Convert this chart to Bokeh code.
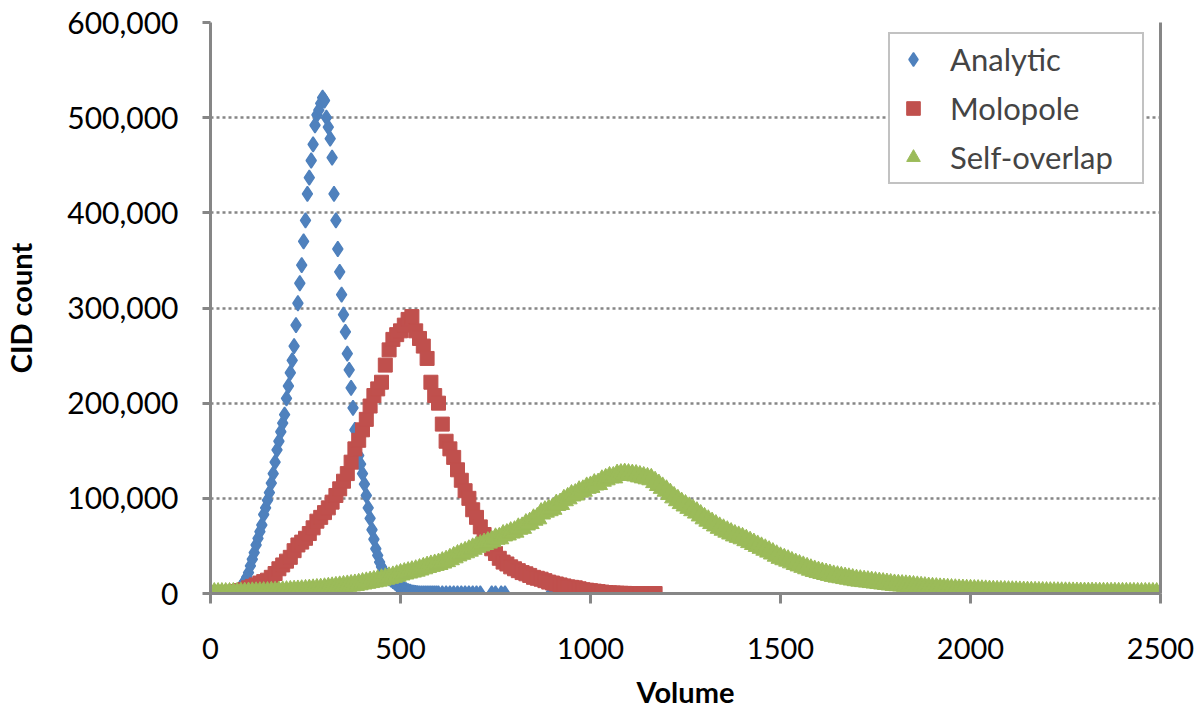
import numpy as np
from bokeh.plotting import figure
from bokeh.models import (Legend, LegendItem, NumeralTickFormatter, FixedTicker,
                          LinearAxis, Range1d, ColumnDataSource)
from bokeh.embed import file_html
from bokeh.resources import INLINE

# ---------------- data ----------------
SERIES_NAMES = ["Analytic", "Molopole", "Self-overlap"]

ANALYTIC_X = (list(range(55, 605, 5))
              + [610, 620, 630, 640, 650, 660, 670, 680, 690, 700, 710, 740, 750, 765, 775, 895])
ANALYTIC_Y_K = [
    0, 0.3, 1, 2, 4, 6.5, 9.5, 13, 17, 22,
    29, 36, 43, 51, 58, 65, 72, 83, 90, 98,
    106, 116, 126, 138, 151, 160, 170, 179, 188, 205,
    218, 232, 245, 260, 282, 305, 326, 345, 370, 392,
    420, 437, 455, 472, 492, 503, 508, 515, 521, 518,
    500, 490, 478, 458, 420, 392, 362, 338, 314, 293,
    275, 252, 235, 216, 195, 172, 157, 145, 136, 126,
    115, 103, 90, 79, 67, 57, 47, 40, 33, 28,
    24, 20.7, 18, 16, 14.5, 13, 11.5, 10, 8, 6.6,
    5.5, 4.5, 3.5, 2.5, 1.8, 1.2, 0.8, 0.5, 0.3, 0.2,
    0.1, 0, 0, 0, 0, 0, 0, 0, 0, 0,
    0, 0, 0, 0, 0, 0, 0, 0, 0, 0,
    0, 0, 0, 0, 0, 0,
]

MOLOPOLE_X = list(range(0, 1180, 10))
MOLOPOLE_Y_K = [
    0.5, 0.5, 0.5, 0.5, 1, 1, 1.5, 2, 3, 4,
    6, 7.5, 9, 11, 12.5, 14, 17, 21, 26, 30,
    34, 38, 45, 51, 54, 58, 63, 69, 76, 80,
    85, 90, 96, 103, 110, 118, 126, 138, 152, 161,
    172, 183, 197, 208, 215, 222, 240, 256, 267, 272,
    276, 282, 288, 291, 276, 268, 260, 247, 222, 208,
    200, 178, 160, 152, 143, 130, 119, 108, 100, 88,
    80, 70, 62, 53, 47, 42, 37, 33, 31, 28,
    26, 24, 22, 20.7, 19, 17, 16, 15, 13.5, 12,
    11, 10, 9, 8, 7, 6.5, 6, 5, 4, 3.5,
    3, 2.5, 2, 1.5, 1, 0.7, 0.5, 0.3, 0.2, 0.1,
    0, 0, 0, 0, 0, 0, 0, 0,
]

SELF_X = list(range(0, 2500, 10))
SELF_Y_K = [
    0, 0, 0, 0, 0, 0, 0.1, 0.2, 0.3, 0.4,                       # 0-90
    0.6, 0.7, 0.8, 0.9, 1, 1.1, 1.3, 1.4, 1.6, 1.8,             # 100-190
    2, 2.2, 2.5, 2.7, 3, 3.3, 3.6, 3.9, 4.3, 4.6,               # 200-290
    5, 5.5, 6, 6.5, 7, 7.5, 8, 8.5, 9, 9.7,                     # 300-390
    10.5, 11.2, 12, 12.7, 13.5, 14.5, 15.5, 16.5, 17.5, 18.7,   # 400-490
    20, 21, 22, 23, 24, 25.2, 26.5, 27.8, 29, 30,               # 500-590
    31, 32.5, 34, 36, 38, 40, 41.7, 43.3, 45, 47,               # 600-690
    49, 50.5, 52, 53.5, 55, 57.5, 58, 61, 62, 64,               # 700-790
    65, 68, 69, 72.5, 74, 77.5, 79, 84, 86, 87.5,               # 800-890
    89, 93, 94, 98, 100, 103, 104, 107, 108, 111,               # 900-990
    112, 114.5, 115, 118.5, 120, 122, 122, 124.5, 125, 125.5,   # 1000-1090
    125, 124.5, 124, 123, 122, 121, 120, 117, 114, 111,         # 1100-1190
    108, 104.5, 101, 98, 95, 92.5, 90, 87.5, 85, 82,            # 1200-1290
    79, 76.5, 74, 71.5, 69, 67, 65, 63, 61, 59.5,               # 1300-1390
    58, 56, 54, 52, 50, 48, 46, 44, 42, 39.7,                   # 1400-1490
    37.5, 36, 34.5, 32.7, 31, 29.5, 28, 26.5, 25, 23.7,         # 1500-1590
    22.5, 21.5, 20.5, 19.5, 18.5, 17.7, 17, 16.2, 15.5, 14.7,   # 1600-1690
    14, 13.5, 13, 12.5, 12, 11.5, 11, 10.5, 10, 9.5,            # 1700-1790
    9, 8.7, 8.4, 8.1, 7.8, 7.4, 7, 6.6, 6.2, 5.8,               # 1800-1890
    5.5, 5.2, 4.9, 4.7, 4.5, 4.2, 4, 3.8, 3.7, 3.5,             # 1900-1990
    3.4, 3.2, 3.1, 2.9, 2.8, 2.6, 2.5, 2.3, 2.2, 2.1,           # 2000-2090
    2, 1.9, 1.8, 1.7, 1.6, 1.5, 1.4, 1.3, 1.2, 1.1,             # 2100-2190
    1, 0.95, 0.9, 0.85, 0.8, 0.75, 0.7, 0.65, 0.6, 0.55,        # 2200-2290
    0.5, 0.48, 0.45, 0.42, 0.4, 0.37, 0.35, 0.32, 0.3, 0.28,    # 2300-2390
    0.25, 0.22, 0.2, 0.18, 0.15, 0.12, 0.1, 0.1, 0.1, 0,        # 2400-2490
]

X_TICKS = [0, 500, 1000, 1500, 2000, 2500]
Y_TICKS = [0, 100000, 200000, 300000, 400000, 500000, 600000]
X_LABEL = "Volume"
Y_LABEL = "CID count"

# ---------------- styling ----------------
BLUE = "#4F81BD"
RED = "#C0504D"
GREEN = "#9BBB59"
AXIS_GRAY = "#868686"
FONT = "Lato"

p = figure(width=1200, height=719,
           x_range=Range1d(0, 2500), y_range=Range1d(0, 600000),
           output_backend="svg", toolbar_location=None,
           min_border_left=210, min_border_right=40,
           min_border_top=22, min_border_bottom=126)
p.outline_line_color = None
p.background_fill_color = "white"
p.border_fill_color = "white"

src_a = ColumnDataSource(dict(x=ANALYTIC_X, y=[v * 1000 for v in ANALYTIC_Y_K]))
src_m = ColumnDataSource(dict(x=MOLOPOLE_X, y=[v * 1000 for v in MOLOPOLE_Y_K]))
src_s = ColumnDataSource(dict(x=SELF_X, y=[v * 1000 for v in SELF_Y_K]))

r_a = p.scatter("x", "y", source=src_a, marker="diamond", size=15,
                fill_color=BLUE, line_color=BLUE, line_width=1.5)
r_m = p.scatter("x", "y", source=src_m, marker="square", size=14,
                fill_color=RED, line_color=RED)
r_s = p.scatter("x", "y", source=src_s, marker="triangle", size=19,
                fill_color=GREEN, line_color=GREEN)

# axes
p.xaxis.ticker = FixedTicker(ticks=X_TICKS)
p.yaxis.ticker = FixedTicker(ticks=Y_TICKS)
p.yaxis.formatter = NumeralTickFormatter(format="0,0")
for ax in (p.xaxis[0], p.yaxis[0]):
    ax.axis_line_color = AXIS_GRAY
    ax.axis_line_width = 3
    ax.major_tick_line_color = AXIS_GRAY
    ax.major_tick_line_width = 3
    ax.major_tick_in = 0
    ax.minor_tick_line_color = None
    ax.major_label_text_color = "black"
    ax.major_label_text_font = FONT
    ax.axis_label_text_color = "black"
    ax.axis_label_text_font_style = "bold"
    ax.axis_label_text_font = FONT
    ax.axis_label_text_font_size = "29px"

p.xaxis.major_tick_out = 10
p.xaxis.major_label_text_font_size = "29px"
p.xaxis.major_label_standoff = 34
p.xaxis.axis_label = X_LABEL
p.xaxis.axis_label_standoff = 12

p.yaxis.major_tick_out = 8
p.yaxis.major_label_text_font_size = "30px"
p.yaxis.major_label_standoff = 24
p.yaxis.axis_label = Y_LABEL
p.yaxis.axis_label_standoff = 26

right_ax = LinearAxis(ticker=FixedTicker(ticks=[]), axis_line_color=AXIS_GRAY,
                      axis_line_width=3, major_tick_line_color=None,
                      minor_tick_line_color=None)
p.add_layout(right_ax, "right")

# grid
p.xgrid.grid_line_color = None
p.ygrid.ticker = FixedTicker(ticks=Y_TICKS)
p.ygrid.bounds = (50000, 550000)
p.ygrid.grid_line_color = AXIS_GRAY
p.ygrid.grid_line_width = 2.5
p.ygrid.grid_line_dash = "3 3"

# legend
legend = Legend(items=[LegendItem(label=SERIES_NAMES[0], renderers=[r_a]),
                       LegendItem(label=SERIES_NAMES[1], renderers=[r_m]),
                       LegendItem(label=SERIES_NAMES[2], renderers=[r_s])],
                location=(678, 409), margin=0, padding=6, spacing=11,
                label_height=36, glyph_height=36, glyph_width=34,
                label_standoff=20, label_width=186,
                border_line_color=AXIS_GRAY, border_line_width=2,
                label_text_font=FONT, label_text_font_size="31px",
                background_fill_color="white", background_fill_alpha=1)
p.add_layout(legend)

open("out.html", "w").write(file_html(p, INLINE))
